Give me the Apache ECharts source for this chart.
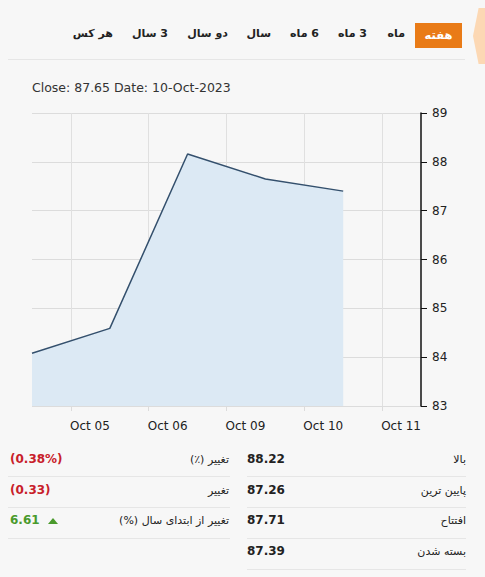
<!DOCTYPE html>
<html>
<head>
<meta charset="utf-8">
<script src="https://cdn.jsdelivr.net/npm/echarts@6/dist/echarts.min.js"></script>
<style>
  html, body { margin: 0; padding: 0; background: #f7f7f7; }
  body { width: 485px; height: 577px; position: relative; overflow: hidden; font-family: "DejaVu Sans", sans-serif; color: #222; }
  #chart { position: absolute; left: 0; top: 0; width: 485px; height: 445px; }
  .tab { position: absolute; top: 27px; font-size: 11px; font-weight: bold; direction: rtl; white-space: nowrap; }
  .tab.active { top: 23px; height: 25px; line-height: 25px; width: 47px; text-align: center; background: #e97b17; color: #fff; right: 23px; font-size: 11.5px; }
  .edge { position: absolute; left: 473px; top: 8px; width: 14px; height: 56px; background: #fcd8b4; clip-path: polygon(100% 0, 40% 0, 0 50%, 40% 100%, 100% 100%); }
  .sep { position: absolute; height: 1px; background: #e6e6e6; }
  .lbl { position: absolute; font-size: 11px; direction: rtl; white-space: nowrap; }
  .val { position: absolute; font-size: 12px; font-weight: bold; white-space: nowrap; }
  .neg { color: #c8202a; }
  .pos { color: #4a9a2c; }
  .tri { position: absolute; width: 0; height: 0; border-left: 5px solid transparent; border-right: 5px solid transparent; border-bottom: 6px solid #4a9a2c; }
</style>
</head>
<body>
<div class="edge"></div>
<div class="tab active">هفته</div>
<div id="tabs"></div>
<div class="sep" style="left:8px; top:59px; width:457px;"></div>
<div id="chart"></div>
<div id="stats"></div>
<script>
  // range tabs, right edge of each label in px
  const tabNames = ["ماه", "3 ماه", "6 ماه", "سال", "دو سال", "3 سال", "هر کس"];
  const tabRight = [405, 367, 319, 271, 228, 168, 113];

  // chart data
  const tickLabels = ["", "Oct 05", "Oct 06", "Oct 09", "Oct 10", "Oct 11"];
  const closes = [84.08, 84.59, 88.16, 87.65, 87.40];
  const headerText = "Close: 87.65 Date: 10-Oct-2023";

  // stats table
  const rightLabels = ["بالا", "پایین ترین", "افتتاح", "بسته شدن"];
  const rightValues = ["88.22", "87.26", "87.71", "87.39"];
  const leftLabels = ["تغییر (٪)", "تغییر", "تغییر از ابتدای سال (%)"];
  const leftValues = ["(0.38%)", "(0.33)", "6.61"];
  const leftClass = ["neg", "neg", "pos"];

  const tabs = document.getElementById("tabs");
  tabNames.forEach((t, i) => {
    const d = document.createElement("div");
    d.className = "tab";
    d.style.right = (485 - tabRight[i]) + "px";
    d.textContent = t;
    tabs.appendChild(d);
  });

  const stats = document.getElementById("stats");
  const rowTop = [452, 483, 513, 544];
  const lineTop = [476, 507, 538, 569];
  const add = (cls, css, txt) => {
    const d = document.createElement("div");
    d.className = cls;
    d.style.cssText = css;
    if (txt) d.textContent = txt;
    stats.appendChild(d);
  };
  rightLabels.forEach((t, i) => {
    add("lbl", `right:${485 - 466}px; top:${rowTop[i] + 1}px;`, t);
    add("val", `left:247px; top:${rowTop[i]}px;`, rightValues[i]);
    add("sep", `left:247px; top:${lineTop[i]}px; width:219px;`);
  });
  leftLabels.forEach((t, i) => {
    add("lbl", `right:${485 - 229}px; top:${rowTop[i] + 1}px;`, t);
    add("val " + leftClass[i], `left:10px; top:${rowTop[i]}px;`, leftValues[i]);
    add("sep", `left:8px; top:${lineTop[i]}px; width:222px;`);
  });
  add("tri", `left:48px; top:${rowTop[2] + 5}px;`);

  const chart = echarts.init(document.getElementById("chart"), null, { renderer: "svg" });

  chart.setOption({
    animation: false,
    backgroundColor: "transparent",
    title: {
      text: headerText,
      left: 27,
      top: 76,
      textStyle: { fontFamily: "DejaVu Sans", fontSize: 12.5, fontWeight: "normal", color: "#333" },
    },
    grid: { left: 32, right: 64, top: 113, height: 293 },
    xAxis: {
      type: "value",
      min: 0,
      max: 5,
      interval: 1,
      axisLine: { show: false },
      axisTick: { show: false },
      splitLine: { show: false },
      minorTick: { show: true, splitNumber: 2, length: 5, lineStyle: { color: "#dcdcdc" } },
      minorSplitLine: { show: true, lineStyle: { color: "#e0e0e0", width: 1 } },
      axisLabel: {
        showMinLabel: true,
        showMaxLabel: true,
        align: "right",
        margin: 14,
        fontFamily: "DejaVu Sans",
        fontSize: 12,
        color: "#222",
        formatter: (v) => tickLabels[v] || "",
      },
    },
    yAxis: {
      type: "value",
      position: "right",
      min: 83,
      max: 89,
      interval: 1,
      axisLine: { show: true, onZero: false, lineStyle: { color: "#111", width: 1.5 } },
      axisTick: { show: true, length: 6, lineStyle: { color: "#111" } },
      splitLine: { show: true, showMinLine: true, showMaxLine: true, lineStyle: { color: "#dcdcdc" } },
      axisLabel: { margin: 11, fontFamily: "DejaVu Sans", fontSize: 12, color: "#222" },
    },
    series: [
      {
        type: "line",
        data: closes.map((v, i) => [i, v]),
        symbol: "none",
        lineStyle: { color: "#34506d", width: 1.5 },
        areaStyle: { color: "#dce9f4", opacity: 1, origin: "start" },
      },
    ],
  });
</script>
</body>
</html>
